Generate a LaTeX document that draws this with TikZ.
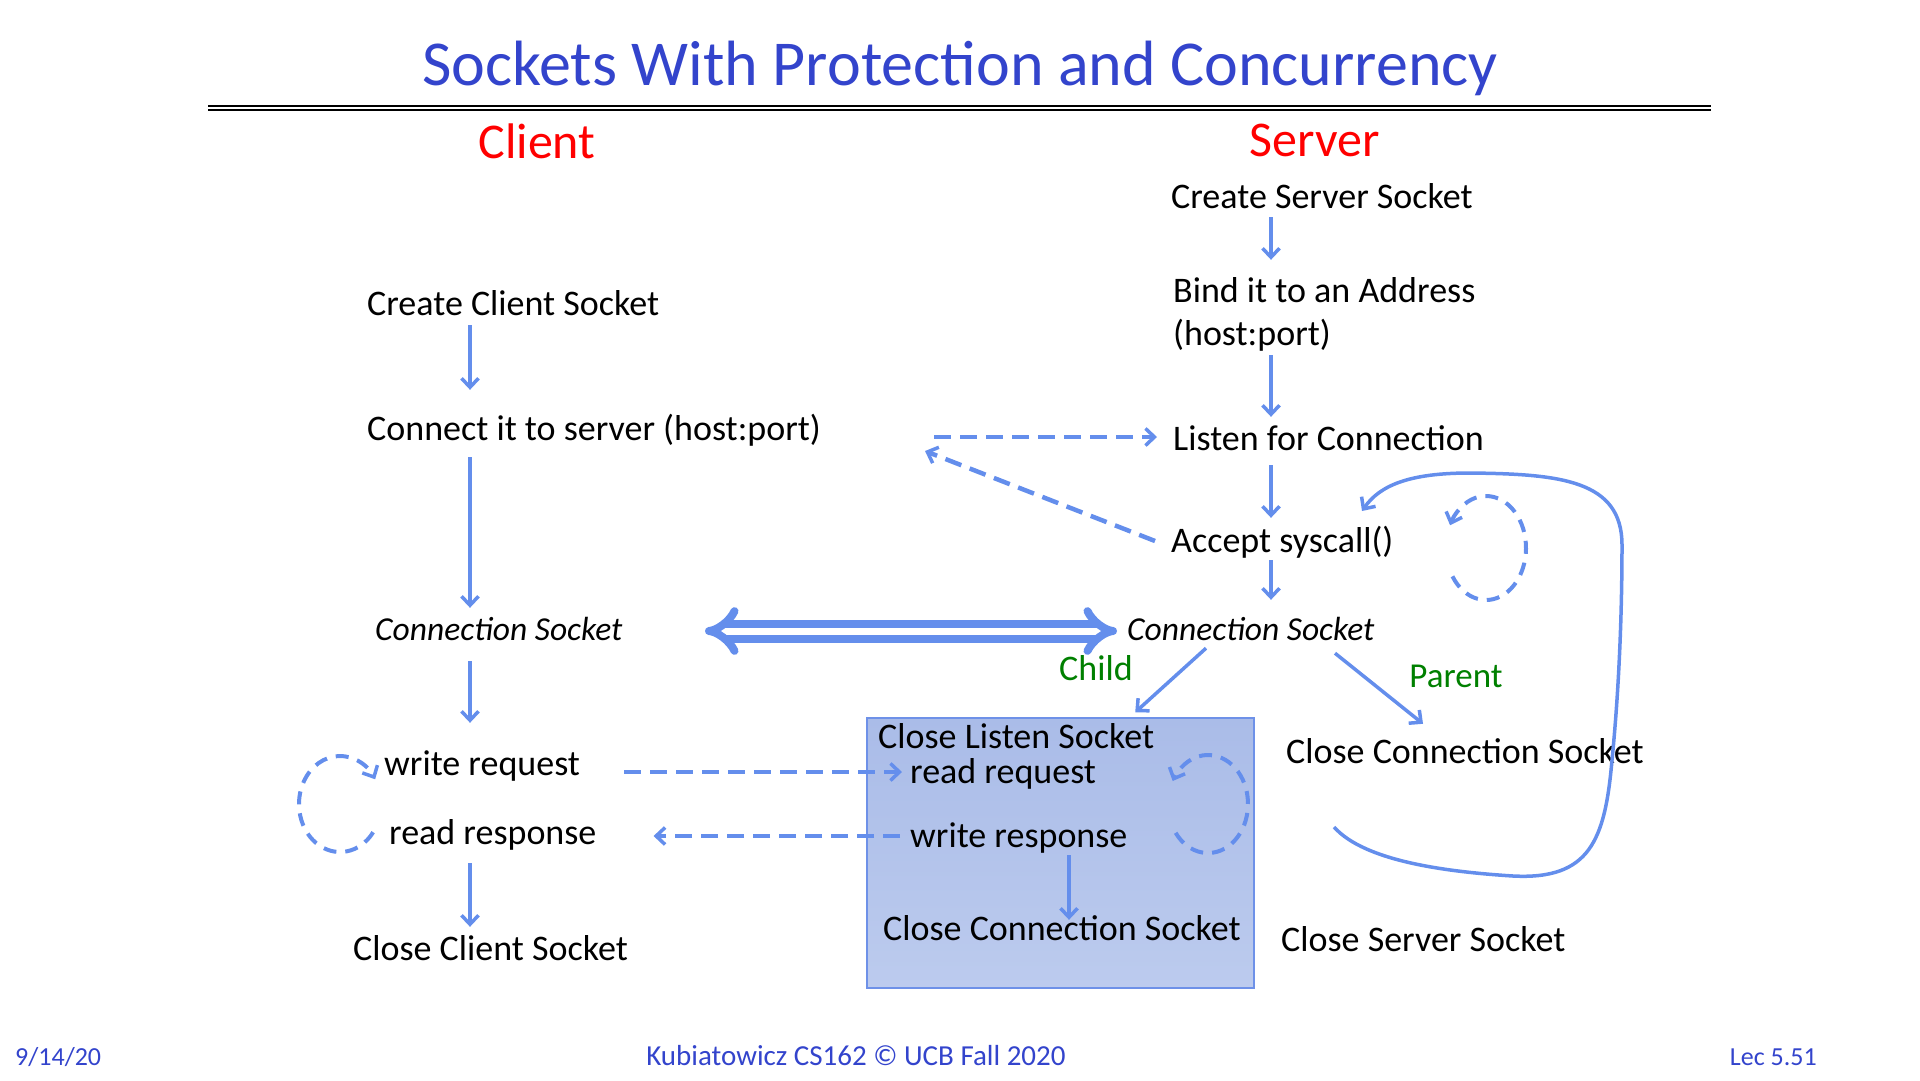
\documentclass[tikz,border=0pt]{standalone}
\usepackage{fontspec}
\setmainfont{Carlito}
\usetikzlibrary{arrows.meta}
\definecolor{arrowblue}{RGB}{100,142,236}
\definecolor{titleblue}{RGB}{51,68,204}
\definecolor{labelgreen}{RGB}{0,128,0}
\definecolor{boxtop}{RGB}{170,188,232}
\definecolor{boxbottom}{RGB}{188,203,238}
\definecolor{boxline}{RGB}{110,145,232}

\begin{document}
\begin{tikzpicture}[x=1pt,y=-1pt]
 \tikzset{txt/.style={anchor=base west,inner sep=0pt,text height=26pt,text depth=8pt,font=\fontsize{36}{43}\selectfont},
  itxt/.style={txt,font=\fontsize{33.5}{40}\selectfont\itshape},
  arrow/.style={draw=arrowblue,line width=3.5pt,-{Straight Barb[length=9pt,width=17pt,line width=3.5pt]}},
  dasharrow/.style={arrow,line width=4.5pt,dash pattern=on 17pt off 9pt},
  loopback/.style={arrow,line width=4pt,dash pattern=on 13pt off 9pt},
  small/.style={inner sep=0pt,font=\fontsize{26}{30}\selectfont,text=titleblue}}
 \useasboundingbox (0,0) rectangle (1920,1080);

 \node (title) at (960,85) [anchor=base,inner sep=0pt,text=titleblue,font=\fontsize{64}{70}\selectfont] {Sockets With Protection and Concurrency};
 \draw[line width=2pt] (208,106.3) -- (1711,106.3) (208,110) -- (1711,110);
 \node (client) at (537,158) [anchor=base,inner sep=0pt,text=red,font=\fontsize{50}{56}\selectfont] {Client};
 \node (server) at (1315,156) [anchor=base,inner sep=0pt,text=red,font=\fontsize{50}{56}\selectfont] {Server};

 \node (childbox) at (1060.5,853) [draw=boxline,line width=1.5pt,top color=boxtop,bottom color=boxbottom,minimum width=387pt,minimum height=270pt] {};

 % client side
 \node[txt] (mkcli) at (367,315) {Create Client Socket};
 \node[txt] (connect) at (367,440) {Connect it to server (host:port)};
 \node[itxt] (cliconn) at (375,640) {Connection Socket};
 \node[txt] (writereq) at (384,775) {write request};
 \node[txt] (readresp) at (389,844) {read response};
 \node[txt] (closecli) at (353,960) {Close Client Socket};

 % server side
 \node[txt] (mksrv) at (1171,208) {Create Server Socket};
 \node[txt,align=left,text height=69pt] (bind) at (1173,345) {Bind it to an Address\\(host:port)};
 \node[txt] (listen) at (1173,450) {Listen for Connection};
 \node[txt] (accept) at (1171,552) {Accept syscall()};
 \node[itxt] (srvconn) at (1127,640) {Connection Socket};
 \node[txt] (closelisten) at (878,748) {Close Listen Socket};
 \node[txt] (readreq) at (910,783) {read request};
 \node[txt] (writeresp) at (910,847) {write response};
 \node[txt] (closeconn) at (883,940) {Close Connection Socket};
 \node[txt] (pclose) at (1286,763) {Close Connection Socket};
 \node[txt] (closesrv) at (1281,951) {Close Server Socket};
 \node (child) at (1096,680) [anchor=base,inner sep=0pt,text=labelgreen,font=\fontsize{36}{40}\selectfont] {Child};
 \node (parent) at (1456,687) [anchor=base,inner sep=0pt,text=labelgreen,font=\fontsize{35}{40}\selectfont] {Parent};

 \node[small,anchor=base west] (date) at (15,1065) {9/14/20};
 \node[small,anchor=base,font=\fontsize{29}{33}\selectfont] (course) at (856,1065) {Kubiatowicz CS162 © UCB Fall 2020};
 \node[small,anchor=base east] (lec) at (1817,1065) {Lec 5.51};

 \coordinate (cx) at (470,0);
 \coordinate (sx) at (1271,0);
 \coordinate (cliloop) at (340,804);
 \coordinate (srvloop) at (1486,548);
 \coordinate (boxloop) at (1208,804);

 \draw[arrow,shorten <=2pt,shorten >=24pt] (mkcli.south -| cx) -- (connect.north -| cx);
 \draw[arrow,shorten <=9pt,shorten >=6pt] (connect.south -| cx) -- (cliconn.north -| cx);
 \draw[arrow,shorten <=13pt,shorten >=26pt] (cliconn.south -| cx) -- (writereq.north -| cx);
 \draw[arrow,shorten <=11pt,shorten >=7pt] (readresp.south -| cx) -- (closecli.north -| cx);

 \draw[arrow,shorten <=1pt,shorten >=16pt] (mksrv.south -| sx) -- (bind.north -| sx);
 \draw[arrow,shorten <=2pt,shorten >=7pt] (bind.south -| sx) -- (listen.north -| sx);
 \draw[arrow,shorten <=7pt,shorten >=8pt] (listen.south -| sx) -- (accept.north -| sx);
 \draw[arrow,shorten <=0pt,shorten >=14pt] (accept.south -| sx) -- (srvconn.north -| sx);
 \draw[arrow,shorten <=0pt,shorten >=-6pt] (writeresp.south -| 1069,0) -- (closeconn.north -| 1069,0);

 \draw[arrow] ([xshift=79pt]srvconn.south west) -- ([shift={(269pt,5pt)}]childbox.north west);
 \draw[arrow] ([xshift=208pt,yshift=-5pt]srvconn.south west) -- ([shift={(137pt,13pt)}]pclose.north west);

 \draw[{Implies}-{Implies},draw=arrowblue,line width=8pt,double=white,double distance=7pt,shorten >=10pt] (cliconn.east -| 705,0) -- (srvconn.west);

 \draw[dasharrow,shorten <=113pt,shorten >=16pt] ([yshift=3pt]connect.base east) -- ([yshift=3pt]connect.base east -| listen.west);
 \draw[dasharrow] ([shift={(-16pt,11pt)}]accept.base west) -- ([shift={(104pt,-11pt)}]connect.base east);
 \draw[dasharrow,shorten <=44pt,shorten >=8pt] ([yshift=3pt]writereq.base east) -- ([yshift=3pt]writereq.base east -| readreq.west);
 \draw[dasharrow,shorten <=10pt,shorten >=57pt] ([yshift=11pt]writeresp.base west) -- ([yshift=11pt]writeresp.base west -| readresp.east);

 \draw[loopback] (cliloop) ++(36:41 and 48) arc[start angle=36,end angle=329,x radius=41,y radius=48];
 \draw[loopback] (srvloop) ++(147:40 and 52) arc[start angle=147,end angle=-154,x radius=40,y radius=52];
 \draw[loopback] (boxloop) ++(144:40 and 49) arc[start angle=144,end angle=-152,x radius=40,y radius=49];

 \draw[arrow] ([shift={(48pt,-64pt)}]pclose.base west) .. controls (1365,862) and (1450,872) .. (1513,876)
   .. controls (1590,880) and (1605,840) .. (1612,760)
   .. controls (1620,680) and (1622,600) .. (1622,545)
   .. controls (1622,480) and (1560,474) .. (1470,473)
   .. controls (1410,473) and (1380,485) .. ([shift={(191pt,41pt)}]accept.base west);
\end{tikzpicture}
\end{document}
